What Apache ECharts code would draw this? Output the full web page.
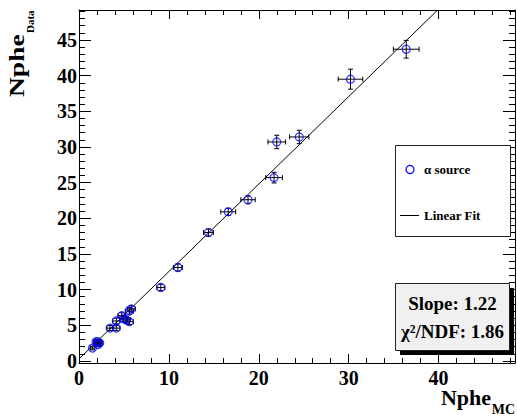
<!DOCTYPE html>
<html>
<head>
<meta charset="utf-8">
<script src="https://cdn.jsdelivr.net/npm/echarts@6/dist/echarts.min.js"></script>
<style>
html,body{margin:0;padding:0;background:#fff;}
#chart{width:517px;height:417px;}
</style>
</head>
<body>
<div id="chart"></div>
<script>
// ---- data ----
const xMC   = [1.5, 1.9, 2.1, 2.3, 2.1, 3.45, 4.15, 4.15, 4.75, 4.97, 5.27, 5.6, 5.82, 5.6, 9.1, 11.0, 14.4, 16.6, 18.8, 21.7, 22.0, 24.5, 30.2, 36.4];
const yData = [1.8, 2.7, 2.7, 2.5, 2.3, 4.6, 4.6, 5.6, 6.35, 5.9, 5.75, 5.5, 7.3, 7.0, 10.3, 13.1, 18.0, 20.9, 22.6, 25.7, 30.7, 31.4, 39.5, 43.7];
const xErr  = [0.25, 0.3, 0.3, 0.3, 0.3, 0.35, 0.4, 0.4, 0.4, 0.45, 0.45, 0.45, 0.45, 0.45, 0.45, 0.5, 0.55, 0.83, 0.8, 0.93, 0.98, 1.07, 1.37, 1.43];
const yErr  = [0.25, 0.3, 0.3, 0.3, 0.3, 0.35, 0.35, 0.4, 0.4, 0.4, 0.4, 0.4, 0.45, 0.45, 0.45, 0.5, 0.5, 0.5, 0.55, 0.75, 0.94, 0.94, 1.4, 1.24];
const fitX  = [0.1, 39.9];
const fitY  = [0.4, 49.2];
const xMajorTicks = [0, 10, 20, 30, 40];
const xMinorTicks = [2, 4, 6, 8, 12, 14, 16, 18, 22, 24, 26, 28, 32, 34, 36, 38, 42, 44, 46, 48];
const yMajorTicks = [0, 5, 10, 15, 20, 25, 30, 35, 40, 45];
const yMinorTicks = [1,2,3,4,6,7,8,9,11,12,13,14,16,17,18,19,21,22,23,24,26,27,28,29,31,32,33,34,36,37,38,39,41,42,43,44,46,47,48,49];
const slopeText = 'Slope: 1.22';
const chiText = 'χ²/NDF: 1.86';
const legendNames = ['α source', 'Linear Fit'];

const X_MIN = 0, X_MAX = 48.5, Y_MIN = -0.29, Y_MAX = 49.2;
const SERIF = "'Liberation Serif','Times New Roman',serif";
const black = '#000';

function xAx(position, ticks, len, labels, line) {
  return {
    type: 'value', position: position, min: X_MIN, max: X_MAX,
    axisLine: {show: line, onZero: false, lineStyle: {color: black, width: 1}},
    axisTick: {show: true, inside: true, length: len, customValues: ticks, lineStyle: {color: black, width: 1}},
    axisLabel: labels ? {show: true, customValues: ticks, margin: 5, color: black,
      fontFamily: SERIF, fontWeight: 'bold', fontSize: 20} : {show: false},
    splitLine: {show: false}
  };
}
function yAx(position, ticks, len, labels, line) {
  return {
    type: 'value', position: position, min: Y_MIN, max: Y_MAX,
    axisLine: {show: line, onZero: false, lineStyle: {color: black, width: 1}},
    axisTick: {show: true, inside: true, length: len, customValues: ticks, lineStyle: {color: black, width: 1}},
    axisLabel: labels ? {show: true, customValues: ticks, margin: 2, color: black,
      fontFamily: SERIF, fontWeight: 'bold', fontSize: 20} : {show: false},
    splitLine: {show: false}
  };
}

const points = xMC.map((x, i) => [x, yData[i], xErr[i], yErr[i]]);
const fitData = fitX.map((x, i) => [x, fitY[i]]);

const chart = echarts.init(document.getElementById('chart'), null, {renderer: 'svg'});
chart.setOption({
  animation: false,
  backgroundColor: '#fff',
  grid: {left: 79, top: 10, width: 436, height: 353, containLabel: false},
  xAxis: [
    xAx('bottom', xMajorTicks, 9, true, true),
    xAx('bottom', xMinorTicks, 5, false, false),
    xAx('top', xMajorTicks, 9, false, true),
    xAx('top', xMinorTicks, 5, false, false)
  ],
  yAxis: [
    yAx('left', yMajorTicks, 12, true, true),
    yAx('left', yMinorTicks, 6, false, false),
    yAx('right', yMajorTicks, 12, false, true),
    yAx('right', yMinorTicks, 6, false, false)
  ],
  series: [
    {
      type: 'line', name: legendNames[1], data: fitData, showSymbol: false, symbol: 'none',
      lineStyle: {color: black, width: 1}, clip: true, z: 2
    },
    {
      type: 'custom', name: 'errors', data: points, clip: true, z: 3,
      renderItem: function (params, api) {
        const x = api.value(0), y = api.value(1), ex = api.value(2), ey = api.value(3);
        const pL = api.coord([x - ex, y]), pR = api.coord([x + ex, y]);
        const pB = api.coord([x, y - ey]), pT = api.coord([x, y + ey]);
        const c = 2.5;
        const st = {stroke: black, lineWidth: 1};
        return {
          type: 'group',
          children: [
            {type: 'line', shape: {x1: pL[0], y1: pL[1], x2: pR[0], y2: pR[1]}, style: st},
            {type: 'line', shape: {x1: pB[0], y1: pB[1], x2: pT[0], y2: pT[1]}, style: st},
            {type: 'line', shape: {x1: pL[0], y1: pL[1] - c, x2: pL[0], y2: pL[1] + c}, style: st},
            {type: 'line', shape: {x1: pR[0], y1: pR[1] - c, x2: pR[0], y2: pR[1] + c}, style: st},
            {type: 'line', shape: {x1: pB[0] - c, y1: pB[1], x2: pB[0] + c, y2: pB[1]}, style: st},
            {type: 'line', shape: {x1: pT[0] - c, y1: pT[1], x2: pT[0] + c, y2: pT[1]}, style: st}
          ]
        };
      }
    },
    {
      type: 'scatter', name: legendNames[0], data: points.map(p => [p[0], p[1]]),
      symbol: 'circle', symbolSize: 8, z: 4,
      itemStyle: {color: 'rgba(0,0,0,0)', borderColor: '#0000ff', borderWidth: 1.2}
    }
  ],
  graphic: [
    // legend box
    {type: 'rect', shape: {x: 395.5, y: 145.5, width: 115, height: 91},
     style: {fill: '#fff', stroke: '#222', lineWidth: 1}, z: 10},
    {type: 'circle', shape: {cx: 410, cy: 169.5, r: 4},
     style: {fill: 'none', stroke: '#0000ff', lineWidth: 1.2}, z: 11},
    {type: 'text', x: 424, y: 169.5, z: 11,
     style: {text: legendNames[0], font: 'bold 13px ' + SERIF, fill: black, align: 'left', verticalAlign: 'middle'}},
    {type: 'line', shape: {x1: 400, y1: 215.5, x2: 419, y2: 215.5},
     style: {stroke: black, lineWidth: 1}, z: 11},
    {type: 'text', x: 424, y: 215.5, z: 11,
     style: {text: legendNames[1], font: 'bold 13px ' + SERIF, fill: black, align: 'left', verticalAlign: 'middle'}},
    // stats box with shadow
    {type: 'rect', shape: {x: 400, y: 288, width: 114, height: 67},
     style: {fill: black}, z: 10},
    {type: 'rect', shape: {x: 395.5, y: 283.5, width: 114, height: 67},
     style: {fill: '#f0f0f0', stroke: '#222', lineWidth: 1}, z: 11},
    {type: 'text', x: 452.5, y: 303, z: 12,
     style: {text: slopeText, font: 'bold 19px ' + SERIF, fill: black, align: 'center', verticalAlign: 'middle'}},
    {type: 'text', x: 452.5, y: 331.5, z: 12,
     style: {text: chiText, font: 'bold 19px ' + SERIF, fill: black, align: 'center', verticalAlign: 'middle'}},
    // x axis title
    {type: 'text', x: 491, y: 397.5, z: 12,
     style: {text: 'Nphe', font: 'bold 22px ' + SERIF, fill: black, align: 'right', verticalAlign: 'middle'}},
    {type: 'text', x: 515, y: 409, z: 12,
     style: {text: 'MC', font: 'bold 14px ' + SERIF, fill: black, align: 'right', verticalAlign: 'middle'}},
    // y axis title (rotated)
    {type: 'group', x: 23, y: 97, rotation: Math.PI / 2, z: 12,
     children: [
       {type: 'text', x: 0, y: -6.6, scaleX: 1.25,
        style: {text: 'Nphe', font: 'bold 22px ' + SERIF, fill: black, align: 'left', verticalAlign: 'middle'}},
       {type: 'text', x: 64, y: 6.5,
        style: {text: 'Data', font: 'bold 11px ' + SERIF, fill: black, align: 'left', verticalAlign: 'middle'}}
     ]}
  ]
});
</script>
</body>
</html>
